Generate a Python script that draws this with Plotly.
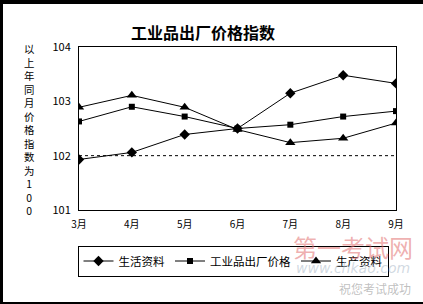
import plotly.graph_objects as go

months = ["3月", "4月", "5月", "6月", "7月", "8月", "9月"]
living = [101.93, 102.06, 102.39, 102.50, 103.15, 103.48, 103.33]
industrial = [102.63, 102.90, 102.72, 102.50, 102.57, 102.72, 102.82]
production = [102.89, 103.11, 102.89, 102.48, 102.24, 102.32, 102.60]
y_ticks = [101, 102, 103, 104]
ref_value = 102
ytitle_chars = list("以上年同月价格指数为100")

W, H = 423, 304
L, R, T, B = 79, 27, 47, 94
pw, ph = W - L - R, H - T - B

def px(x):
    return (x - L) / pw

def py(y):
    return (H - B - y) / ph

FONT = "Noto Sans CJK SC"

fig = go.Figure()
fig.add_trace(go.Scatter(x=months, y=living, name="生活资料", mode="lines+markers",
                         line=dict(color="black", width=1),
                         marker=dict(symbol="diamond", size=8, color="black")))
fig.add_trace(go.Scatter(x=months, y=industrial, name="工业品出厂价格", mode="lines+markers",
                         line=dict(color="black", width=1),
                         marker=dict(symbol="square", size=6, color="black")))
fig.add_trace(go.Scatter(x=months, y=production, name="生产资料", mode="lines+markers",
                         line=dict(color="black", width=1),
                         marker=dict(symbol="triangle-up", size=9, color="black")))

shapes = [
    dict(type="line", xref="paper", yref="y", x0=0, x1=1, y0=ref_value, y1=ref_value,
         line=dict(color="black", width=1, dash="dot")),
    # black frame pieces of the original picture
    dict(type="rect", xref="paper", yref="paper", x0=px(0), x1=px(W), y0=py(0), y1=py(4),
         fillcolor="black", line=dict(width=0)),
    dict(type="rect", xref="paper", yref="paper", x0=px(0), x1=px(3), y0=py(0), y1=py(H),
         fillcolor="black", line=dict(width=0)),
    dict(type="rect", xref="paper", yref="paper", x0=px(0), x1=px(W), y0=py(302), y1=py(H),
         fillcolor="black", line=dict(width=0)),
]

annotations = [
    dict(text="<br>".join(ytitle_chars), xref="paper", yref="paper", x=px(29), y=py(129),
         xanchor="center", yanchor="middle", showarrow=False,
         font=dict(family=FONT, size=10.4, color="black")),
    dict(text="第一考试网", xref="paper", yref="paper", x=px(353), y=py(246),
         xanchor="center", yanchor="middle", showarrow=False,
         font=dict(family=FONT, size=24, color="rgba(225,110,110,0.55)")),
    dict(text="<i>www.chkao.com</i>", xref="paper", yref="paper", x=px(353), y=py(268),
         xanchor="center", yanchor="middle", showarrow=False,
         font=dict(family="DejaVu Sans", size=14, color="rgba(170,185,200,0.55)")),
    dict(text="祝您考试成功", xref="paper", yref="paper", x=px(375), y=py(288),
         xanchor="center", yanchor="middle", showarrow=False,
         font=dict(family=FONT, size=12, color="rgba(150,150,150,0.6)")),
]

fig.update_layout(
    width=W, height=H,
    margin=dict(l=L, r=R, t=T, b=B),
    paper_bgcolor="white", plot_bgcolor="white",
    title=dict(text="<b>工业品出厂价格指数</b>", x=203 / W, xanchor="center",
               y=1 - 33 / H, yanchor="middle",
               font=dict(family=FONT, size=16, color="black")),
    xaxis=dict(type="category", range=[0, len(months) - 1], showgrid=False, zeroline=False,
               showline=True, linecolor="black", linewidth=1, mirror=True, ticks="",
               ticklabelstandoff=5,
               tickfont=dict(family=FONT, size=10, color="black")),
    yaxis=dict(range=[y_ticks[0], y_ticks[-1]], tickvals=y_ticks, showgrid=False, zeroline=False,
               showline=True, linecolor="black", linewidth=1, mirror=True, ticks="",
               ticklabelstandoff=5,
               tickfont=dict(family=FONT, size=11, color="black")),
    legend=dict(orientation="h", x=px(233), xanchor="center", y=py(261), yanchor="middle",
                bordercolor="black", borderwidth=1, bgcolor="rgba(255,255,255,0)",
                font=dict(family=FONT, size=11.5, color="black"),
                itemwidth=30, tracegroupgap=0),
    shapes=shapes,
    annotations=annotations,
    showlegend=True,
)

fig.write_html("out.html")
